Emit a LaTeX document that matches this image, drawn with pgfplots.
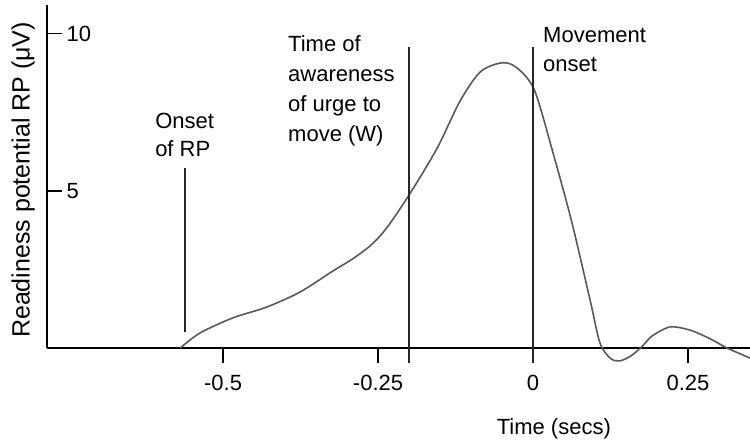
\documentclass[border=0pt]{standalone}
\usepackage{fontspec}
\setmainfont{Liberation Sans}
\usepackage{pgfplots}
\pgfplotsset{compat=1.18}
\newcommand\annfont{\fontsize{22}{26}\selectfont}
\begin{document}
\begin{tikzpicture}
\begin{axis}[
  scale only axis, width=703pt, height=343pt,
  xmin=-0.784, xmax=0.35, ymin=0, ymax=10.92,
  axis x line=bottom, axis y line=left,
  axis line style={-, line width=2.2pt, black},
  clip=false,
  xtick={-0.5,-0.25,0,0.25}, xticklabels={-0.5,-0.25,0,0.25},
  ytick={5,10}, yticklabels={5,10},
  major tick length=15pt,
  xtick align=outside, ytick align=inside,
  tick style={line width=1.2pt, black},
  ticklabel style={font=\annfont},
  xticklabel style={anchor=north, yshift=-9pt},
  yticklabel style={anchor=west, xshift=16pt},
  every axis y label/.style={at={(axis description cs:-0.034,0.49)}, rotate=90, anchor=center, font=\fontsize{25}{29}\selectfont},
  every axis x label/.style={at={(axis description cs:0.721,-0.2536)}, anchor=base, font=\annfont},
  ylabel={Readiness potential RP (μV)},
  xlabel={Time (secs)},
]
\addplot[smooth, no markers, line width=1.6pt, color=black!65] coordinates {
(-0.569,0) (-0.537,0.48) (-0.484,0.96) (-0.43,1.3) (-0.376,1.78) (-0.323,2.45)
(-0.29,2.85) (-0.26,3.3) (-0.235,3.85) (-0.200,4.87) (-0.155,6.35)
(-0.118,7.85) (-0.085,8.79) (-0.050,9.08) (-0.026,8.92) (0.002,8.22) (0.031,6.3)
(0.062,4.05) (0.092,1.53) (0.108,0.16) (0.125,-0.33) (0.140,-0.41) (0.158,-0.25)
(0.176,0.05) (0.192,0.38) (0.221,0.67) (0.253,0.57) (0.285,0.3) (0.313,0) (0.350,-0.32)
};
\addplot[no markers, line width=1.5pt, color=black!85] coordinates {(-0.561,0.51) (-0.561,5.73)};
\addplot[no markers, line width=1.5pt, color=black!85] coordinates {(-0.2,-0.48) (-0.2,9.59)};
\addplot[no markers, line width=1.5pt, color=black!85] coordinates {(0,-0.48) (0,9.59)};
\node[anchor=base west, inner sep=0, font=\annfont] at (axis cs:-0.6097,6.975) {Onset};
\node[anchor=base west, inner sep=0, font=\annfont] at (axis cs:-0.6097,6.083) {of RP};
\node[anchor=base west, inner sep=0, font=\annfont] at (axis cs:-0.3952,9.427) {Time of};
\node[anchor=base west, inner sep=0, font=\annfont] at (axis cs:-0.3952,8.471) {awareness};
\node[anchor=base west, inner sep=0, font=\annfont] at (axis cs:-0.3952,7.516) {of urge to};
\node[anchor=base west, inner sep=0, font=\annfont] at (axis cs:-0.3952,6.561) {move (W)};
\node[anchor=base west, inner sep=0, font=\annfont] at (axis cs:0.0161,9.713) {Movement};
\node[anchor=base west, inner sep=0, font=\annfont] at (axis cs:0.0161,8.790) {onset};
\end{axis}
\pgfresetboundingbox
\path[use as bounding box] (-47pt,-95pt) rectangle (703pt,348pt);
\end{tikzpicture}
\end{document}
